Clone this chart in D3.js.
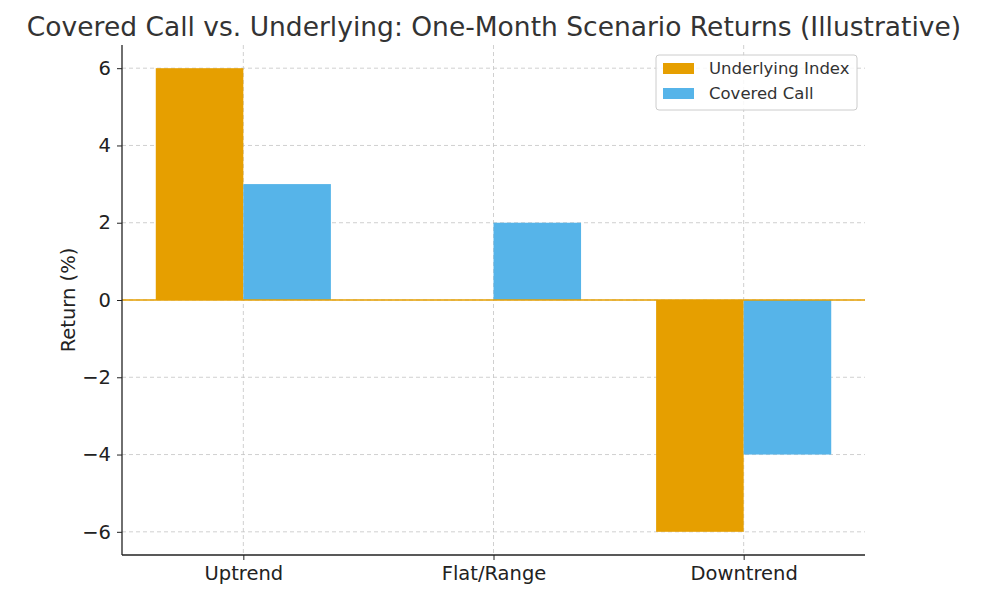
<!DOCTYPE html>
<html lang="en">
<head>
  <meta charset="utf-8">
  <title>Covered Call vs. Underlying</title>
  <script src="https://d3js.org/d3.v7.min.js"></script>
  <style>
    body { margin: 0; background: #fff; }
    text { font-family: "DejaVu Sans", sans-serif; }
  </style>
</head>
<body>
<script>
  // chart data
  var categories = ["Uptrend", "Flat/Range", "Downtrend"];
  var underlying = [6, 0, -6];
  var coveredCall = [3, 2, -4];
  var seriesNames = ["Underlying Index", "Covered Call"];
  var seriesColors = ["#E69F00", "#56B4E9"];
  var yTicks = [-6, -4, -2, 0, 2, 4, 6];

  var width = 982, height = 598;
  var mLeft = 122, mRight = 865, mTop = 45, mBottom = 555;
  var barW = 0.35;

  var svg = d3.select("body").append("svg")
      .attr("width", width)
      .attr("height", height);

  var x = d3.scaleLinear().domain([-0.485, 2.485]).range([mLeft, mRight]);
  var y = d3.scaleLinear().domain([-6.6, 6.6]).range([mBottom, mTop]);

  // grid
  var grid = svg.append("g");
  grid.selectAll(".gy").data(yTicks).enter().append("line")
      .attr("x1", mLeft).attr("x2", mRight)
      .attr("y1", function(d) { return y(d); }).attr("y2", function(d) { return y(d); })
      .attr("stroke", "#c4c4c4").attr("stroke-width", 0.8).attr("stroke-dasharray", "4,3");
  grid.selectAll(".gx").data(categories).enter().append("line")
      .attr("x1", function(d, i) { return x(i); }).attr("x2", function(d, i) { return x(i); })
      .attr("y1", mTop).attr("y2", mBottom)
      .attr("stroke", "#c4c4c4").attr("stroke-width", 0.8).attr("stroke-dasharray", "4,3");

  // bars
  var series = [underlying, coveredCall];
  series.forEach(function(vals, s) {
    svg.append("g").selectAll("rect").data(vals).enter().append("rect")
      .attr("x", function(d, i) { return x(i - barW + s * barW); })
      .attr("width", x(barW) - x(0))
      .attr("y", function(d) { return y(Math.max(0, d)); })
      .attr("height", function(d) { return Math.abs(y(d) - y(0)); })
      .attr("fill", seriesColors[s]);
  });

  // zero line
  svg.append("line")
      .attr("x1", mLeft).attr("x2", mRight)
      .attr("y1", y(0)).attr("y2", y(0))
      .attr("stroke", "#E69F00").attr("stroke-width", 1.5);

  // axes
  var yAxis = d3.axisLeft(y).tickValues(yTicks)
      .tickFormat(function(d) { return d < 0 ? "\u2212" + Math.abs(d) : d; })
      .tickSize(5).tickPadding(6);
  var gy = svg.append("g").attr("transform", "translate(" + mLeft + ",0)").call(yAxis);
  var xAxis = d3.axisBottom(x).tickValues([0, 1, 2])
      .tickFormat(function(d) { return categories[d]; })
      .tickSize(5).tickPadding(6);
  var gx = svg.append("g").attr("transform", "translate(0," + mBottom + ")").call(xAxis);
  [gx, gy].forEach(function(g) {
    g.select(".domain").remove();
    g.selectAll("line").attr("stroke", "#222").attr("stroke-width", 1);
    g.selectAll("text").attr("font-size", 19.5).attr("fill", "#222")
      .style("font-family", "DejaVu Sans, sans-serif");
  });
  svg.append("line").attr("x1", mLeft).attr("x2", mLeft).attr("y1", mTop).attr("y2", mBottom)
      .attr("stroke", "#222").attr("stroke-width", 1.3);
  svg.append("line").attr("x1", mLeft).attr("x2", mRight).attr("y1", mBottom).attr("y2", mBottom)
      .attr("stroke", "#222").attr("stroke-width", 1.3);

  // labels
  svg.append("text")
      .attr("x", 494).attr("y", 36)
      .attr("text-anchor", "middle")
      .attr("font-size", 26.5).attr("fill", "#333")
      .text("Covered Call vs. Underlying: One-Month Scenario Returns (Illustrative)");
  svg.append("text")
      .attr("transform", "translate(75," + (mTop + mBottom) / 2 + ") rotate(-90)")
      .attr("text-anchor", "middle")
      .attr("font-size", 19.5).attr("fill", "#222")
      .text("Return (%)");

  // legend
  var lg = svg.append("g").attr("transform", "translate(656,55)");
  lg.append("rect").attr("width", 201).attr("height", 55).attr("rx", 3)
      .attr("fill", "#fff").attr("fill-opacity", 0.85)
      .attr("stroke", "#ccc").attr("stroke-width", 1);
  seriesNames.forEach(function(name, i) {
    lg.append("rect").attr("x", 7).attr("y", 8 + i * 25).attr("width", 31).attr("height", 11)
        .attr("fill", seriesColors[i]);
    lg.append("text").attr("x", 53).attr("y", 19 + i * 25)
        .attr("font-size", 16.5).attr("fill", "#333").text(name);
  });
</script>
</body>
</html>
